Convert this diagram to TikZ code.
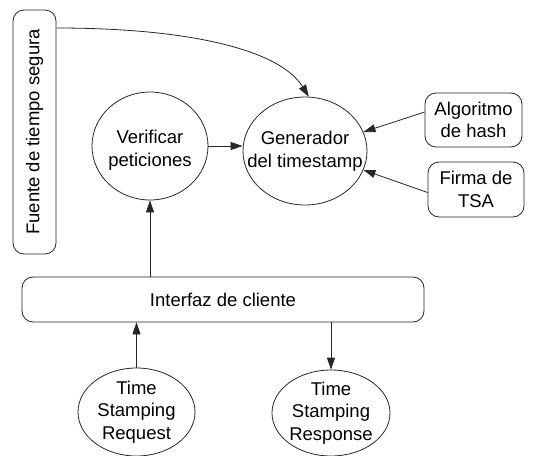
\documentclass[tikz,border=0pt]{standalone}
\usepackage{fontspec}
\setmainfont{Liberation Sans}
\usetikzlibrary{shapes.geometric,arrows.meta}
\begin{document}
\begin{tikzpicture}[x=1pt,y=-1pt,
  ell/.style={draw=black!85,line width=0.8pt,ellipse,inner sep=0pt},
  rbox/.style={draw=black!85,line width=0.8pt,rounded corners=11pt,inner sep=0pt},
  txt/.style={align=center,font=\fontsize{18.5}{22.5}\selectfont,inner sep=0pt},
  arr/.style={draw=black!85,line width=0.8pt,-{Triangle[length=12pt,width=8pt]}}]
\useasboundingbox (0,0) rectangle (550,456);
% nodes
\node[rbox,minimum width=43pt,minimum height=244pt] (fuente) at (34.5,132) {};
\node[txt,rotate=90] (fuentet) at (fuente) {Fuente de tiempo segura};
\node[ell,minimum width=116pt,minimum height=108pt] (ver) at (150,146) {};
\node[txt] (vert) at (150,150) {Verificar\\peticiones};
\node[ell,minimum width=124pt,minimum height=108pt] (gen) at (305,151) {};
\node[txt] (gent) at (305,151) {Generador\\del timestamp};
\node[rbox,minimum width=97pt,minimum height=54pt] (alg) at (473.5,120) {};
\node[txt] (algt) at (alg) {Algoritmo\\de hash};
\node[rbox,minimum width=96pt,minimum height=55pt] (firma) at (476,189.5) {};
\node[txt] (firmat) at (firma) {Firma de\\TSA};
\node[rbox,minimum width=402pt,minimum height=45pt] (ifz) at (223,299.5) {};
\node[txt] (ifzt) at (ifz) {Interfaz de cliente};
\node[ell,minimum width=117pt,minimum height=88pt] (req) at (136.5,412) {};
\node[txt] (reqt) at (req) {Time\\Stamping\\Request};
\node[ell,minimum width=118pt,minimum height=86pt] (resp) at (331,413) {};
\node[txt] (respt) at (resp) {Time\\Stamping\\Response};
\coordinate (fs) at (56.5,28);
% connectors
\draw[arr] (fs) .. controls (190,28) and (280,50) .. (gen.86);
\draw[arr] (ver.east) -- (ver.east -| gen.west);
\draw[arr] ([yshift=8pt]alg.west) -- (gen.18);
\draw[arr] ([yshift=-3pt]firma.west) -- (gen.-18);
\draw[arr] (ver.south |- ifz.north) -- (ver.south);
\draw[arr] (req.north) -- (req.north |- ifz.south);
\draw[arr] (ifz.south -| resp.north) -- (resp.north);
\end{tikzpicture}
\end{document}
